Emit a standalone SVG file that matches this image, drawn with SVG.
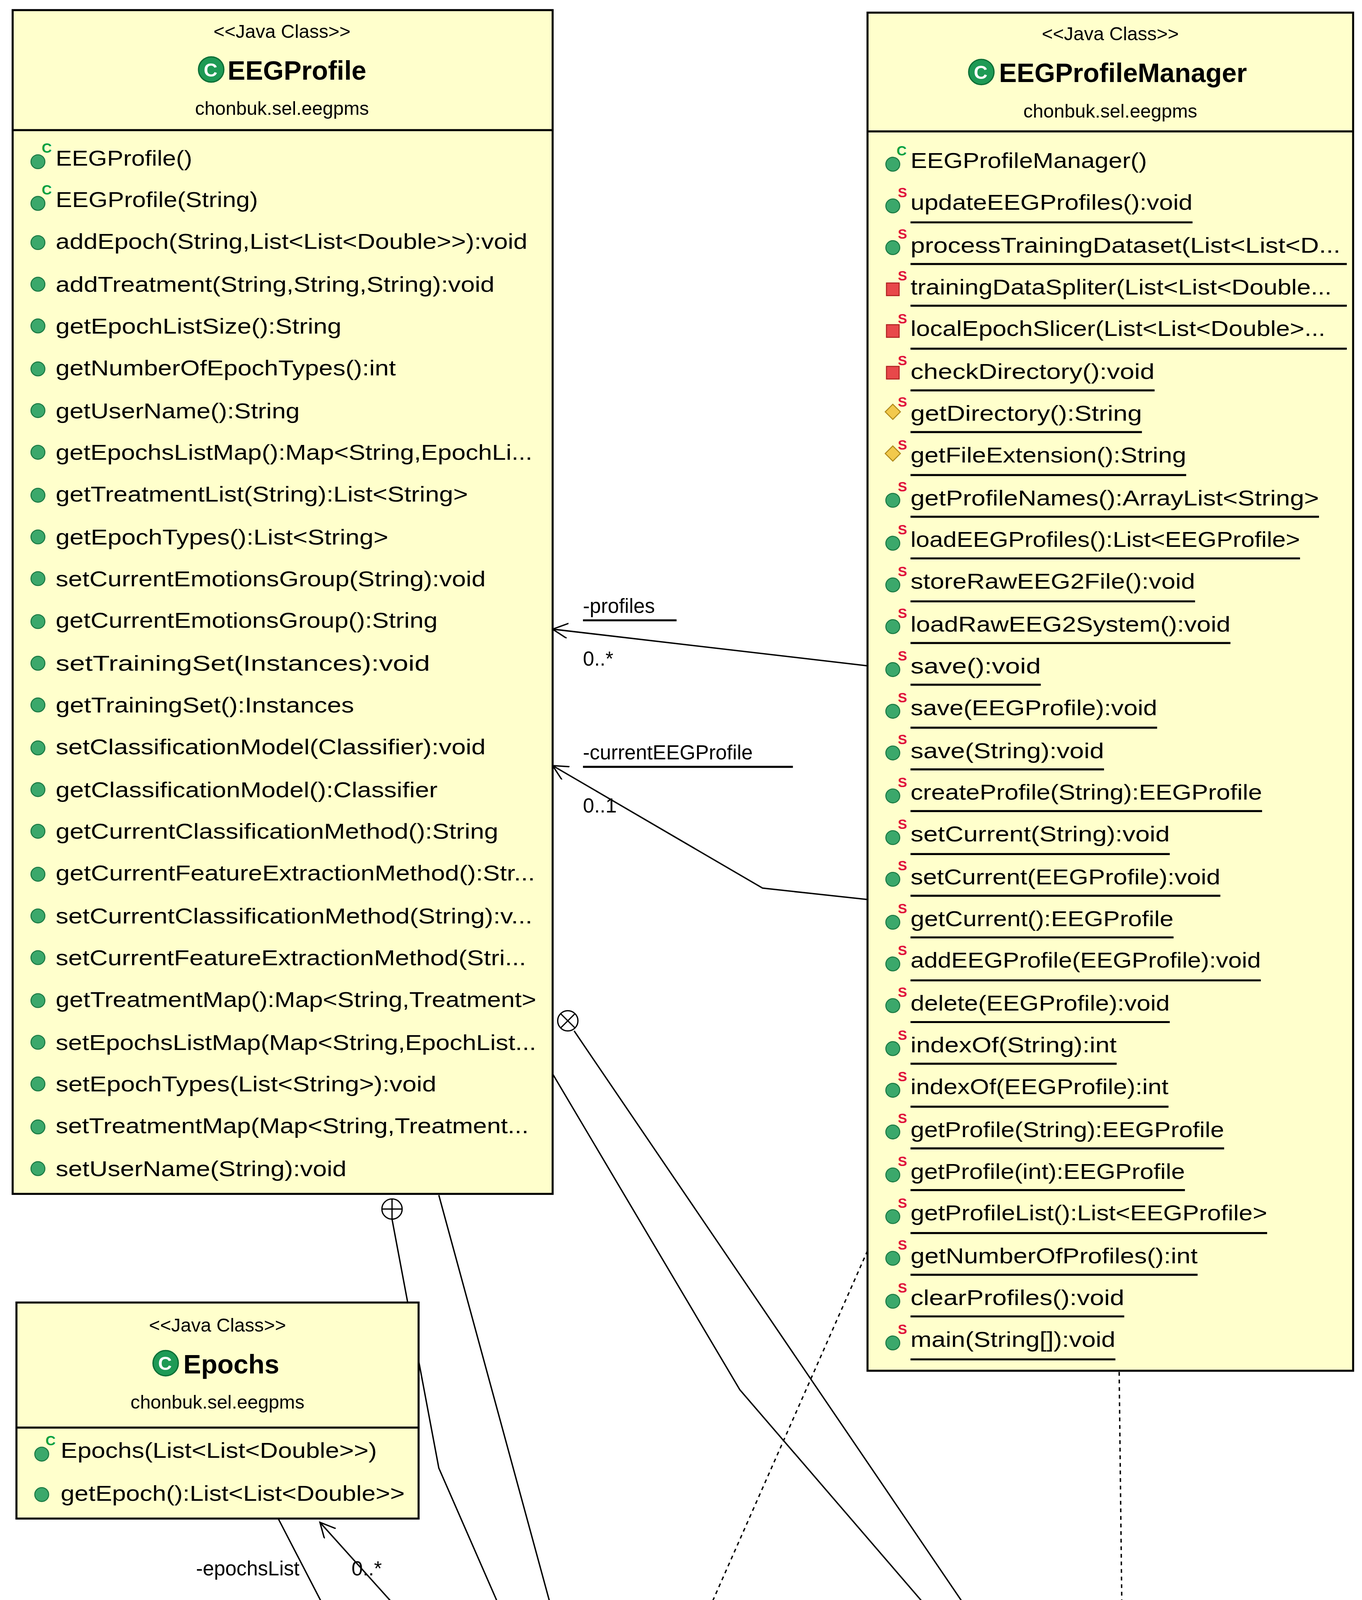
<svg xmlns="http://www.w3.org/2000/svg" width="3486" height="5055" viewBox="0 0 3486 5055">
<style>
.box{fill:#FFFFCC;stroke:#000;stroke-width:1.6}
.t{font-family:"Liberation Sans",Arial,sans-serif;font-size:17px;fill:#000}
.h{font-family:"Liberation Sans",Arial,sans-serif;font-size:15px;fill:#000;text-anchor:middle}
.n{font-family:"Liberation Sans",Arial,sans-serif;font-size:21px;font-weight:bold;fill:#000}
.pub{fill:#3BA86B;stroke:#1B7A43;stroke-width:0.8}
.sup{font-family:"Liberation Sans",Arial,sans-serif;font-size:11px;font-weight:bold}
.cs{fill:#00A040}
.ss{fill:#E0103A}
.ul{stroke:#000;stroke-width:1.6}
.ln{fill:none;stroke:#000;stroke-width:1.1}
.dt{fill:none;stroke:#000;stroke-width:1.1;stroke-dasharray:3 3}
.lb{font-family:"Liberation Sans",Arial,sans-serif;font-size:16px;fill:#000}
</style>
<defs>
<marker id="ar" markerWidth="14" markerHeight="14" refX="12" refY="6" orient="auto" markerUnits="userSpaceOnUse">
<path d="M0,0 L12,6 L0,12" fill="none" stroke="#000" stroke-width="1.1"/>
</marker>
<g id="ci"><circle r="10" fill="#1E9A55" stroke="#0B6E35" stroke-width="1"/><text y="5.5" x="-0.5" text-anchor="middle" font-family="Liberation Sans,Arial,sans-serif" font-weight="bold" font-size="15" fill="#fff">C</text></g>
<circle id="pm" r="5.5" class="pub"/>
</defs>
<rect width="3486" height="5055" fill="#fff"/>
<g transform="scale(3.2367,3.2342)">

<g id="connectors">
<polyline class="ln" points="686,527 437,498" marker-end="url(#ar)"/>
<text class="lb" x="461" y="485">-profiles</text><line class="ul" x1="461" y1="491" x2="535" y2="491"/>
<text class="lb" x="461" y="527">0..*</text>
<polyline class="ln" points="686,712 603,703 437,606" marker-end="url(#ar)"/>
<line class="ln" x1="700" y1="712" x2="686" y2="735"/>
<text class="lb" x="461" y="601">-currentEEGProfile</text><line class="ul" x1="461" y1="607" x2="627" y2="607"/>
<text class="lb" x="461" y="643">0..1</text>
<polyline class="ln" points="310,965 347,1162 430,1352"/>
<circle cx="310" cy="957" r="8" fill="#fff" stroke="#000" stroke-width="1"/><path d="M302,957 H318 M310,949 V965" stroke="#000" stroke-width="1"/>
<polyline class="ln" points="347,946 457,1350" marker-end="url(#ar)"/>
<text class="lb" x="296" y="1319">-epochsListMap</text>
<text class="lb" x="455" y="1319">0..*</text>
<polyline class="ln" points="220,1202 280,1318 318,1332"/>
<circle cx="322" cy="1340" r="8" fill="#fff" stroke="#000" stroke-width="1"/><path d="M316.3,1334.3 L327.7,1345.7 M327.7,1334.3 L316.3,1345.7" stroke="#000" stroke-width="1"/>
<polyline class="ln" points="385,1352 253,1205" marker-end="url(#ar)"/>
<text class="lb" x="155" y="1247">-epochsList</text>
<text class="lb" x="278" y="1247">0..*</text>
<polyline class="ln" points="437,850 585,1100 800,1350" marker-end="url(#ar)"/>
<text class="lb" x="643" y="1319">-treatmentMap</text>
<text class="lb" x="790" y="1319">0..*</text>
<polyline class="ln" points="454,816 818,1352"/>
<circle cx="449" cy="808" r="8" fill="#fff" stroke="#000" stroke-width="1"/><path d="M443.3,802.3 L454.7,813.7 M454.7,802.3 L443.3,813.7" stroke="#000" stroke-width="1"/>
<polyline class="dt" points="686,990 527,1350" marker-end="url(#ar)"/>
<polyline class="dt" points="885,1086 888,1350" marker-end="url(#ar)"/>
</g>

<g id="EEGProfile">
<rect class="box" x="10" y="8" width="427" height="937"/>
<line class="ul" x1="10" y1="103" x2="437" y2="103"/>
<text class="h" x="223" y="30">&lt;&lt;Java Class&gt;&gt;</text>
<use href="#ci" x="167" y="55"/><text class="n" x="180" y="63">EEGProfile</text>
<text class="h" x="223" y="91">chonbuk.sel.eegpms</text>
<use href="#pm" x="30" y="128"/><text class="sup cs" x="33" y="121">C</text><text class="t" x="44" y="131" textLength="108" lengthAdjust="spacingAndGlyphs">EEGProfile()</text>
<use href="#pm" x="30" y="161"/><text class="sup cs" x="33" y="154">C</text><text class="t" x="44" y="164" textLength="160" lengthAdjust="spacingAndGlyphs">EEGProfile(String)</text>
<use href="#pm" x="30" y="192"/><text class="t" x="44" y="197" textLength="373" lengthAdjust="spacingAndGlyphs">addEpoch(String,List&lt;List&lt;Double&gt;&gt;):void</text>
<use href="#pm" x="30" y="225"/><text class="t" x="44" y="231" textLength="347" lengthAdjust="spacingAndGlyphs">addTreatment(String,String,String):void</text>
<use href="#pm" x="30" y="258"/><text class="t" x="44" y="264" textLength="226" lengthAdjust="spacingAndGlyphs">getEpochListSize():String</text>
<use href="#pm" x="30" y="292"/><text class="t" x="44" y="297" textLength="269" lengthAdjust="spacingAndGlyphs">getNumberOfEpochTypes():int</text>
<use href="#pm" x="30" y="325"/><text class="t" x="44" y="331" textLength="193" lengthAdjust="spacingAndGlyphs">getUserName():String</text>
<use href="#pm" x="30" y="358"/><text class="t" x="44" y="364" textLength="377" lengthAdjust="spacingAndGlyphs">getEpochsListMap():Map&lt;String,EpochLi...</text>
<use href="#pm" x="30" y="392"/><text class="t" x="44" y="397" textLength="326" lengthAdjust="spacingAndGlyphs">getTreatmentList(String):List&lt;String&gt;</text>
<use href="#pm" x="30" y="425"/><text class="t" x="44" y="431" textLength="263" lengthAdjust="spacingAndGlyphs">getEpochTypes():List&lt;String&gt;</text>
<use href="#pm" x="30" y="458"/><text class="t" x="44" y="464" textLength="340" lengthAdjust="spacingAndGlyphs">setCurrentEmotionsGroup(String):void</text>
<use href="#pm" x="30" y="492"/><text class="t" x="44" y="497" textLength="302" lengthAdjust="spacingAndGlyphs">getCurrentEmotionsGroup():String</text>
<use href="#pm" x="30" y="525"/><text class="t" x="44" y="531" textLength="296" lengthAdjust="spacingAndGlyphs">setTrainingSet(Instances):void</text>
<use href="#pm" x="30" y="558"/><text class="t" x="44" y="564" textLength="236" lengthAdjust="spacingAndGlyphs">getTrainingSet():Instances</text>
<use href="#pm" x="30" y="592"/><text class="t" x="44" y="597" textLength="340" lengthAdjust="spacingAndGlyphs">setClassificationModel(Classifier):void</text>
<use href="#pm" x="30" y="625"/><text class="t" x="44" y="631" textLength="302" lengthAdjust="spacingAndGlyphs">getClassificationModel():Classifier</text>
<use href="#pm" x="30" y="658"/><text class="t" x="44" y="664" textLength="350" lengthAdjust="spacingAndGlyphs">getCurrentClassificationMethod():String</text>
<use href="#pm" x="30" y="692"/><text class="t" x="44" y="697" textLength="379" lengthAdjust="spacingAndGlyphs">getCurrentFeatureExtractionMethod():Str...</text>
<use href="#pm" x="30" y="725"/><text class="t" x="44" y="731" textLength="377" lengthAdjust="spacingAndGlyphs">setCurrentClassificationMethod(String):v...</text>
<use href="#pm" x="30" y="758"/><text class="t" x="44" y="764" textLength="372" lengthAdjust="spacingAndGlyphs">setCurrentFeatureExtractionMethod(Stri...</text>
<use href="#pm" x="30" y="792"/><text class="t" x="44" y="797" textLength="380" lengthAdjust="spacingAndGlyphs">getTreatmentMap():Map&lt;String,Treatment&gt;</text>
<use href="#pm" x="30" y="825"/><text class="t" x="44" y="831" textLength="380" lengthAdjust="spacingAndGlyphs">setEpochsListMap(Map&lt;String,EpochList...</text>
<use href="#pm" x="30" y="858"/><text class="t" x="44" y="864" textLength="301" lengthAdjust="spacingAndGlyphs">setEpochTypes(List&lt;String&gt;):void</text>
<use href="#pm" x="30" y="892"/><text class="t" x="44" y="897" textLength="374" lengthAdjust="spacingAndGlyphs">setTreatmentMap(Map&lt;String,Treatment...</text>
<use href="#pm" x="30" y="925"/><text class="t" x="44" y="931" textLength="230" lengthAdjust="spacingAndGlyphs">setUserName(String):void</text>
</g>

<g id="EEGProfileManager">
<rect class="box" x="686" y="10" width="384" height="1075"/>
<line class="ul" x1="686" y1="104" x2="1070" y2="104"/>
<text class="h" x="878" y="32">&lt;&lt;Java Class&gt;&gt;</text>
<use href="#ci" x="776" y="57"/><text class="n" x="790" y="65">EEGProfileManager</text>
<text class="h" x="878" y="93">chonbuk.sel.eegpms</text>
<use href="#pm" x="706" y="130"/><text class="sup cs" x="709" y="123">C</text><text class="t" x="720" y="133" textLength="187" lengthAdjust="spacingAndGlyphs">EEGProfileManager()</text>
<use href="#pm" x="706" y="163"/><text class="sup ss" x="710" y="156">S</text><text class="t" x="720" y="166" textLength="223" lengthAdjust="spacingAndGlyphs">updateEEGProfiles():void</text><line class="ul" x1="720" y1="176" x2="943" y2="176"/>
<use href="#pm" x="706" y="196"/><text class="sup ss" x="710" y="189">S</text><text class="t" x="720" y="200" textLength="340" lengthAdjust="spacingAndGlyphs">processTrainingDataset(List&lt;List&lt;D...</text><line class="ul" x1="720" y1="209" x2="1065" y2="209"/>
<rect x="701" y="224" width="10" height="10" fill="#E8484A" stroke="#B02020" stroke-width="0.8"/><text class="sup ss" x="710" y="222">S</text><text class="t" x="720" y="233" textLength="333" lengthAdjust="spacingAndGlyphs">trainingDataSpliter(List&lt;List&lt;Double...</text><line class="ul" x1="720" y1="242" x2="1065" y2="242"/>
<rect x="701" y="257" width="10" height="10" fill="#E8484A" stroke="#B02020" stroke-width="0.8"/><text class="sup ss" x="710" y="256">S</text><text class="t" x="720" y="266" textLength="328" lengthAdjust="spacingAndGlyphs">localEpochSlicer(List&lt;List&lt;Double&gt;...</text><line class="ul" x1="720" y1="276" x2="1065" y2="276"/>
<rect x="701" y="290" width="10" height="10" fill="#E8484A" stroke="#B02020" stroke-width="0.8"/><text class="sup ss" x="710" y="289">S</text><text class="t" x="720" y="300" textLength="193" lengthAdjust="spacingAndGlyphs">checkDirectory():void</text><line class="ul" x1="720" y1="309" x2="913" y2="309"/>
<path d="M706,320 L712,326 L706,332 L700,326 Z" fill="#F2C94C" stroke="#B08A1A" stroke-width="0.8"/><text class="sup ss" x="710" y="322">S</text><text class="t" x="720" y="333" textLength="183" lengthAdjust="spacingAndGlyphs">getDirectory():String</text><line class="ul" x1="720" y1="342" x2="903" y2="342"/>
<path d="M706,353 L712,359 L706,365 L700,359 Z" fill="#F2C94C" stroke="#B08A1A" stroke-width="0.8"/><text class="sup ss" x="710" y="356">S</text><text class="t" x="720" y="366" textLength="218" lengthAdjust="spacingAndGlyphs">getFileExtension():String</text><line class="ul" x1="720" y1="376" x2="938" y2="376"/>
<use href="#pm" x="706" y="396"/><text class="sup ss" x="710" y="389">S</text><text class="t" x="720" y="400" textLength="323" lengthAdjust="spacingAndGlyphs">getProfileNames():ArrayList&lt;String&gt;</text><line class="ul" x1="720" y1="409" x2="1043" y2="409"/>
<use href="#pm" x="706" y="430"/><text class="sup ss" x="710" y="423">S</text><text class="t" x="720" y="433" textLength="308" lengthAdjust="spacingAndGlyphs">loadEEGProfiles():List&lt;EEGProfile&gt;</text><line class="ul" x1="720" y1="442" x2="1028" y2="442"/>
<use href="#pm" x="706" y="463"/><text class="sup ss" x="710" y="456">S</text><text class="t" x="720" y="466" textLength="225" lengthAdjust="spacingAndGlyphs">storeRawEEG2File():void</text><line class="ul" x1="720" y1="476" x2="945" y2="476"/>
<use href="#pm" x="706" y="496"/><text class="sup ss" x="710" y="489">S</text><text class="t" x="720" y="500" textLength="253" lengthAdjust="spacingAndGlyphs">loadRawEEG2System():void</text><line class="ul" x1="720" y1="509" x2="973" y2="509"/>
<use href="#pm" x="706" y="530"/><text class="sup ss" x="710" y="523">S</text><text class="t" x="720" y="533" textLength="103" lengthAdjust="spacingAndGlyphs">save():void</text><line class="ul" x1="720" y1="542" x2="823" y2="542"/>
<use href="#pm" x="706" y="563"/><text class="sup ss" x="710" y="556">S</text><text class="t" x="720" y="566" textLength="195" lengthAdjust="spacingAndGlyphs">save(EEGProfile):void</text><line class="ul" x1="720" y1="576" x2="915" y2="576"/>
<use href="#pm" x="706" y="596"/><text class="sup ss" x="710" y="589">S</text><text class="t" x="720" y="600" textLength="153" lengthAdjust="spacingAndGlyphs">save(String):void</text><line class="ul" x1="720" y1="609" x2="873" y2="609"/>
<use href="#pm" x="706" y="630"/><text class="sup ss" x="710" y="623">S</text><text class="t" x="720" y="633" textLength="278" lengthAdjust="spacingAndGlyphs">createProfile(String):EEGProfile</text><line class="ul" x1="720" y1="642" x2="998" y2="642"/>
<use href="#pm" x="706" y="663"/><text class="sup ss" x="710" y="656">S</text><text class="t" x="720" y="666" textLength="205" lengthAdjust="spacingAndGlyphs">setCurrent(String):void</text><line class="ul" x1="720" y1="676" x2="925" y2="676"/>
<use href="#pm" x="706" y="696"/><text class="sup ss" x="710" y="689">S</text><text class="t" x="720" y="700" textLength="245" lengthAdjust="spacingAndGlyphs">setCurrent(EEGProfile):void</text><line class="ul" x1="720" y1="709" x2="965" y2="709"/>
<use href="#pm" x="706" y="730"/><text class="sup ss" x="710" y="723">S</text><text class="t" x="720" y="733" textLength="208" lengthAdjust="spacingAndGlyphs">getCurrent():EEGProfile</text><line class="ul" x1="720" y1="742" x2="928" y2="742"/>
<use href="#pm" x="706" y="763"/><text class="sup ss" x="710" y="756">S</text><text class="t" x="720" y="766" textLength="277" lengthAdjust="spacingAndGlyphs">addEEGProfile(EEGProfile):void</text><line class="ul" x1="720" y1="776" x2="997" y2="776"/>
<use href="#pm" x="706" y="796"/><text class="sup ss" x="710" y="789">S</text><text class="t" x="720" y="800" textLength="205" lengthAdjust="spacingAndGlyphs">delete(EEGProfile):void</text><line class="ul" x1="720" y1="809" x2="925" y2="809"/>
<use href="#pm" x="706" y="830"/><text class="sup ss" x="710" y="823">S</text><text class="t" x="720" y="833" textLength="163" lengthAdjust="spacingAndGlyphs">indexOf(String):int</text><line class="ul" x1="720" y1="842" x2="883" y2="842"/>
<use href="#pm" x="706" y="863"/><text class="sup ss" x="710" y="856">S</text><text class="t" x="720" y="866" textLength="204" lengthAdjust="spacingAndGlyphs">indexOf(EEGProfile):int</text><line class="ul" x1="720" y1="876" x2="924" y2="876"/>
<use href="#pm" x="706" y="896"/><text class="sup ss" x="710" y="889">S</text><text class="t" x="720" y="900" textLength="248" lengthAdjust="spacingAndGlyphs">getProfile(String):EEGProfile</text><line class="ul" x1="720" y1="909" x2="968" y2="909"/>
<use href="#pm" x="706" y="930"/><text class="sup ss" x="710" y="923">S</text><text class="t" x="720" y="933" textLength="217" lengthAdjust="spacingAndGlyphs">getProfile(int):EEGProfile</text><line class="ul" x1="720" y1="942" x2="937" y2="942"/>
<use href="#pm" x="706" y="963"/><text class="sup ss" x="710" y="956">S</text><text class="t" x="720" y="966" textLength="282" lengthAdjust="spacingAndGlyphs">getProfileList():List&lt;EEGProfile&gt;</text><line class="ul" x1="720" y1="976" x2="1002" y2="976"/>
<use href="#pm" x="706" y="996"/><text class="sup ss" x="710" y="989">S</text><text class="t" x="720" y="1000" textLength="227" lengthAdjust="spacingAndGlyphs">getNumberOfProfiles():int</text><line class="ul" x1="720" y1="1009" x2="947" y2="1009"/>
<use href="#pm" x="706" y="1030"/><text class="sup ss" x="710" y="1023">S</text><text class="t" x="720" y="1033" textLength="169" lengthAdjust="spacingAndGlyphs">clearProfiles():void</text><line class="ul" x1="720" y1="1042" x2="889" y2="1042"/>
<use href="#pm" x="706" y="1063"/><text class="sup ss" x="710" y="1056">S</text><text class="t" x="720" y="1066" textLength="162" lengthAdjust="spacingAndGlyphs">main(String[]):void</text><line class="ul" x1="720" y1="1076" x2="882" y2="1076"/>
</g>

<g id="Epochs">
<rect class="box" x="13" y="1031" width="318" height="171"/>
<line class="ul" x1="13" y1="1130" x2="331" y2="1130"/>
<text class="h" x="172" y="1054">&lt;&lt;Java Class&gt;&gt;</text>
<use href="#ci" x="131" y="1079"/><text class="n" x="145" y="1087">Epochs</text>
<text class="h" x="172" y="1115">chonbuk.sel.eegpms</text>
<use href="#pm" x="33" y="1151"/><text class="sup cs" x="36" y="1144">C</text><text class="t" x="48" y="1154" textLength="250" lengthAdjust="spacingAndGlyphs">Epochs(List&lt;List&lt;Double&gt;&gt;)</text>
<use href="#pm" x="33" y="1183"/><text class="t" x="48" y="1188" textLength="272" lengthAdjust="spacingAndGlyphs">getEpoch():List&lt;List&lt;Double&gt;&gt;</text>
</g>

<g id="EpochList">
<rect class="box" x="275" y="1352" width="410" height="205"/>
<line class="ul" x1="275" y1="1443" x2="685" y2="1443"/>
<text class="h" x="480" y="1374">&lt;&lt;Java Class&gt;&gt;</text>
<use href="#ci" x="426" y="1400"/><text class="n" x="440" y="1408">EpochList</text>
<text class="h" x="480" y="1436">chonbuk.sel.eegpms</text>
<use href="#pm" x="295" y="1472"/><text class="sup cs" x="298" y="1465">C</text><text class="t" x="309" y="1476" textLength="102" lengthAdjust="spacingAndGlyphs">EpochList()</text>
<path d="M295,1498 L301,1509 L289,1509 Z" fill="#2E6FD8" stroke="#1A4EA0" stroke-width="0.8"/><text class="t" x="309" y="1509" textLength="365" lengthAdjust="spacingAndGlyphs">addEpoch(List&lt;List&lt;Double&gt;&gt;):EpochList</text>
<use href="#pm" x="295" y="1538"/><text class="t" x="309" y="1543" textLength="266" lengthAdjust="spacingAndGlyphs">getEpochsList():List&lt;Epochs&gt;</text>
</g>

<g id="Treatment">
<rect class="box" x="708" y="1352" width="362" height="205"/>
<line class="ul" x1="708" y1="1443" x2="1070" y2="1443"/>
<text class="h" x="888" y="1374">&lt;&lt;Java Class&gt;&gt;</text>
<use href="#ci" x="833" y="1400"/><text class="n" x="848" y="1408">Treatment</text>
<text class="h" x="888" y="1436">chonbuk.sel.eegpms</text>
<use href="#pm" x="730" y="1472"/><text class="sup cs" x="733" y="1465">C</text><text class="t" x="743" y="1476" textLength="105" lengthAdjust="spacingAndGlyphs">Treatment()</text>
<use href="#pm" x="730" y="1504"/><text class="t" x="743" y="1509" textLength="316" lengthAdjust="spacingAndGlyphs">updateTreatment(String,String):void</text>
<use href="#pm" x="730" y="1538"/><text class="t" x="743" y="1543" textLength="279" lengthAdjust="spacingAndGlyphs">getEmoTreatment():List&lt;String&gt;</text>
</g>

</g>
</svg>
